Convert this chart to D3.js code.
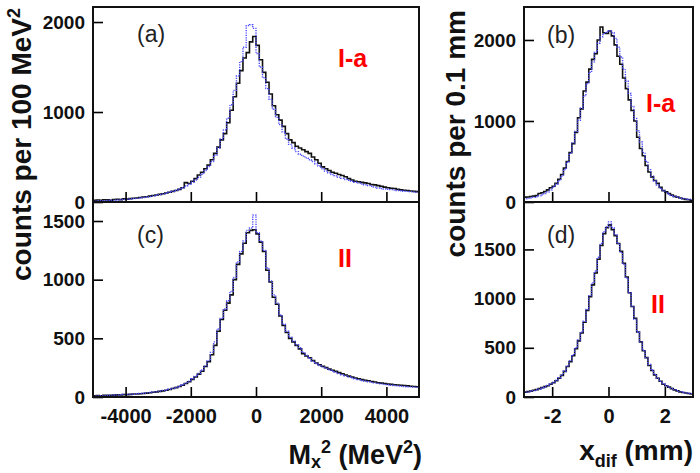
<!DOCTYPE html>
<html>
<head>
<meta charset="utf-8">
<script src="https://cdn.jsdelivr.net/npm/d3@7"></script>
<style>
  body { margin: 0; background: #fff; }
  svg { display: block; font-family: "Liberation Sans", Arial, Helvetica, sans-serif; }
</style>
</head>
<body>
<svg id="chart" width="700" height="473"></svg>
<script>
// ---- Data ----
// Missing-mass-squared histograms: 100 bins of 100 MeV^2 from -5000 to 5000
const mxEdgesStart = -5000, mxBinWidth = 100;
const aData = [20,22,18,25,24,20,28,30,26,35, 32,38,42,45,50,55,58,65,72,78,
  85,92,100,108,118,128,140,158,215,205, 230,260,300,330,370,410,470,540,610,690,
  760,880,1020,1170,1320,1460,1600,1660,1780,1840, 1740,1580,1440,1330,1200,1070,970,910,840,760,
  690,660,620,600,580,560,540,500,470,430, 390,370,350,330,320,305,295,280,260,245,
  230,225,218,212,205,195,190,182,175,165, 158,152,150,140,135,130,128,122,118,115];
const aSim = [10,12,15,12,18,20,18,22,25,28, 30,33,38,40,45,50,55,60,68,75,
  82,90,98,108,118,130,145,160,178,198, 220,245,275,310,350,395,450,520,600,700,
  800,930,1080,1240,1400,1560,1720,1960,1970,1930, 1650,1500,1380,1260,1140,1030,940,860,780,700,
  640,600,560,530,510,490,470,450,425,400, 370,345,325,305,290,275,262,250,240,230,
  220,210,200,192,183,175,165,155,150,145, 140,138,132,128,125,120,118,115,112,110];
const cData = [10,12,10,14,15,14,16,18,17,20, 20,22,25,26,28,30,33,36,40,44,
  48,52,58,64,72,80,90,100,115,130, 150,170,195,220,260,300,360,440,560,660,
  740,800,870,1000,1130,1220,1310,1400,1420,1425, 1390,1320,1240,1080,980,850,790,690,610,550,
  500,470,440,410,370,350,335,310,290,275, 262,250,238,228,218,208,198,188,178,170,
  162,155,148,142,138,132,128,122,118,115, 110,108,104,102,100,98,95,92,90,88];
const cSim = [8,10,12,12,14,16,15,18,20,22, 22,24,26,28,30,32,35,38,42,46,
  50,55,60,66,74,82,92,104,118,135, 155,175,200,230,265,310,380,470,580,670,
  750,820,900,1020,1150,1240,1330,1420,1440,1550, 1400,1330,1250,1100,990,870,800,700,620,560,
  510,475,445,420,380,355,330,305,285,268, 255,245,232,222,212,200,190,180,170,162,
  155,148,140,135,130,125,120,116,112,108, 105,100,98,95,92,90,88,86,84,82];

// x_dif histograms: 60 bins of 0.1 mm from -3 to 3
const xdEdgesStart = -3, xdBinWidth = 0.1;
const bData = [60,62,68,72,80,105,115,130,150,175, 195,230,280,340,420,500,610,720,860,1040,
  1150,1370,1480,1640,1760,1830,2000,2160,2090,2080, 2110,2050,1940,1800,1700,1530,1400,1260,1130,1000,
  800,660,570,450,370,310,265,230,180,140, 125,105,85,70,60,50,40,32,28,22];
const bSim = [40,45,50,58,65,75,90,105,125,150, 185,220,265,320,400,490,600,730,870,1010,
  1160,1310,1460,1600,1730,1850,1960,2040,2080,2100, 2110,2090,2020,1910,1790,1640,1490,1340,1180,1030,
  880,740,610,500,400,320,260,210,170,140, 115,95,80,68,58,50,44,38,34,30];
const dData = [50,55,60,68,75,85,95,105,115,130, 145,165,190,220,260,310,360,420,490,570,
  650,760,880,1020,1140,1260,1400,1540,1660,1720, 1750,1700,1640,1560,1480,1360,1220,1060,920,800,
  660,560,470,400,320,270,225,190,160,130, 115,100,85,72,62,52,45,40,35,30];
const dSim = [48,52,58,65,72,82,92,102,118,132, 150,170,195,225,265,315,370,430,500,580,
  660,770,890,1030,1160,1280,1420,1560,1680,1730, 1780,1720,1650,1560,1470,1350,1210,1060,920,790,
  660,560,475,400,330,275,230,190,160,135, 115,100,88,75,65,55,48,42,38,34];

// Tick values / labels
const mxTicks = [-4000, -2000, 0, 2000, 4000];
const xdTicks = [-2, 0, 2];
const aYTicks = [0, 1000, 2000];
const cYTicks = [0, 500, 1000, 1500];
const bYTicks = [0, 1000, 2000];
const dYTicks = [0, 500, 1000, 1500];

const panelLabels = ["(a)", "(b)", "(c)", "(d)"];
const setLabels = ["I-a", "I-a", "II", "II"];

// ---- Drawing ----
const svg = d3.select("#chart");
const fmt = d => String(d);  // plain hyphen-minus like the original

const L = {x0: 93, x1: 419}, R = {x0: 524, x1: 693};
const TOP = {y0: 7, y1: 202}, BOT = {y0: 202, y1: 397};

const xMx = d3.scaleLinear().domain([-5000, 5000]).range([L.x0, L.x1]);
const xXd = d3.scaleLinear().domain([-3, 3]).range([R.x0, R.x1]);

const panels = [
  {x: xMx, box: L, rows: TOP, ymax: 2167, yt: aYTicks, data: aData, sim: aSim, start: mxEdgesStart, w: mxBinWidth, xt: mxTicks, labels: false, pl: panelLabels[0], sl: setLabels[0], plPos: [137, 42], slPos: [338, 67]},
  {x: xXd, box: R, rows: TOP, ymax: 2407, yt: bYTicks, data: bData, sim: bSim, start: xdEdgesStart, w: xdBinWidth, xt: xdTicks, labels: false, pl: panelLabels[1], sl: setLabels[1], plPos: [547, 43], slPos: [646, 112]},
  {x: xMx, box: L, rows: BOT, ymax: 1662, yt: cYTicks, data: cData, sim: cSim, start: mxEdgesStart, w: mxBinWidth, xt: mxTicks, labels: true, pl: panelLabels[2], sl: setLabels[2], plPos: [137, 243], slPos: [338, 267]},
  {x: xXd, box: R, rows: BOT, ymax: 1982, yt: dYTicks, data: dData, sim: dSim, start: xdEdgesStart, w: xdBinWidth, xt: xdTicks, labels: true, pl: panelLabels[3], sl: setLabels[3], plPos: [547, 243], slPos: [651, 313]}
];

function stepPoints(vals, start, w) {
  const pts = vals.map((v, i) => [start + i * w, v]);
  pts.push([start + vals.length * w, vals[vals.length - 1]]);
  return pts;
}

panels.forEach(p => {
  const y = d3.scaleLinear().domain([0, p.ymax]).range([p.rows.y1, p.rows.y0]);
  const clipId = "clip" + p.pl.replace(/[()]/g, "");
  svg.append("clipPath").attr("id", clipId).append("rect")
    .attr("x", p.box.x0).attr("y", p.rows.y0)
    .attr("width", p.box.x1 - p.box.x0).attr("height", p.rows.y1 - p.rows.y0);

  const line = d3.line().x(d => p.x(d[0])).y(d => y(d[1])).curve(d3.curveStepAfter);
  const g = svg.append("g").attr("clip-path", `url(#${clipId})`);
  g.append("path").attr("d", line(stepPoints(p.data, p.start, p.w)))
    .attr("fill", "none").attr("stroke", "#111").attr("stroke-width", 1.6);
  g.append("path").attr("d", line(stepPoints(p.sim, p.start, p.w)))
    .attr("fill", "none").attr("stroke", "#4a4aff").attr("stroke-width", 1.4)
    .attr("stroke-dasharray", "1.2,1.2");

  // y axis
  const ya = svg.append("g").attr("transform", `translate(${p.box.x0},0)`)
    .call(d3.axisLeft(y).tickValues(p.yt).tickSize(-10).tickPadding(8).tickFormat(fmt));
  ya.select(".domain").remove();
  ya.selectAll(".tick line").attr("stroke", "#000").attr("stroke-width", 1.6);
  ya.selectAll(".tick text").attr("font-size", 19).attr("font-weight", "bold")
    .attr("fill", "#111").attr("font-family", "Liberation Sans, Arial, sans-serif");

  // x axis
  const xa = svg.append("g").attr("transform", `translate(0,${p.rows.y1})`)
    .call(d3.axisBottom(p.x).tickValues(p.xt).tickSize(-10).tickPadding(12)
      .tickFormat(p.labels ? fmt : () => ""));
  xa.select(".domain").remove();
  xa.selectAll(".tick line").attr("stroke", "#000").attr("stroke-width", 1.6);
  xa.selectAll(".tick text").attr("font-size", 20).attr("font-weight", "bold")
    .attr("fill", "#111").attr("font-family", "Liberation Sans, Arial, sans-serif");

  // frame
  svg.append("rect").attr("x", p.box.x0).attr("y", p.rows.y0)
    .attr("width", p.box.x1 - p.box.x0).attr("height", p.rows.y1 - p.rows.y0)
    .attr("fill", "none").attr("stroke", "#111").attr("stroke-width", 2);

  svg.append("text").attr("x", p.plPos[0]).attr("y", p.plPos[1])
    .attr("font-size", 23).attr("fill", "#222").text(p.pl);
  svg.append("text").attr("x", p.slPos[0]).attr("y", p.slPos[1])
    .attr("font-size", 25).attr("font-weight", "bold").attr("fill", "#f00").text(p.sl);
});

// axis titles
const t1 = svg.append("text").attr("transform", "translate(31,8) rotate(-90)")
  .attr("text-anchor", "end").attr("font-size", 28).attr("font-weight", "bold").attr("fill", "#111");
t1.append("tspan").text("counts per 100 MeV");
t1.append("tspan").attr("font-size", 18).attr("dy", -11).text("2");

const t2 = svg.append("text").attr("transform", "translate(465,10) rotate(-90)")
  .attr("text-anchor", "end").attr("font-size", 28).attr("font-weight", "bold").attr("fill", "#111")
  .text("counts per 0.1 mm");

const t3 = svg.append("text").attr("x", 422).attr("y", 464)
  .attr("text-anchor", "end").attr("font-size", 27).attr("font-weight", "bold").attr("fill", "#111");
t3.append("tspan").text("M");
t3.append("tspan").attr("font-size", 18).attr("dy", 4).text("x");
t3.append("tspan").attr("font-size", 18).attr("dy", -15).text("2");
t3.append("tspan").attr("dy", 11).text(" (MeV");
t3.append("tspan").attr("font-size", 18).attr("dy", -11).text("2");
t3.append("tspan").attr("dy", 11).text(")");

const t4 = svg.append("text").attr("x", 693).attr("y", 460)
  .attr("text-anchor", "end").attr("font-size", 28).attr("font-weight", "bold").attr("fill", "#111");
t4.append("tspan").text("x");
t4.append("tspan").attr("font-size", 18).attr("dy", 7).text("dif");
t4.append("tspan").attr("dy", -7).text(" (mm)");
</script>
</body>
</html>
